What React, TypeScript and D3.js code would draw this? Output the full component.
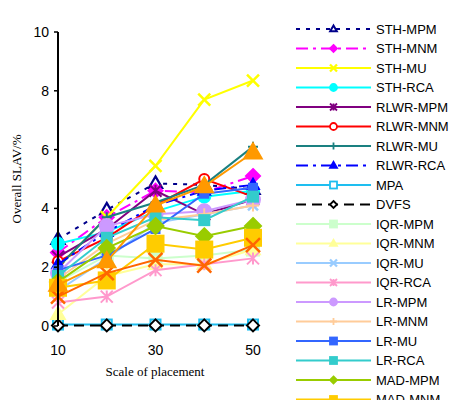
import React from "react";
import * as d3 from "d3";

const scales = [10, 20, 30, 40, 50];
const yTicks = [0, 2, 4, 6, 8, 10];
const xTickLabels = [10, 30, 50];

const names = [
  "STH-MPM", "STH-MNM", "STH-MU", "STH-RCA",
  "RLWR-MPM", "RLWR-MNM", "RLWR-MU", "RLWR-RCA",
  "MPA", "DVFS",
  "IQR-MPM", "IQR-MNM", "IQR-MU", "IQR-RCA",
  "LR-MPM", "LR-MNM", "LR-MU", "LR-RCA",
  "MAD-MPM", "MAD-MNM", "MAD-MU", "MAD-RCA",
];

const sthMPM = [2.95, 3.95, 4.85, 4.8, 4.65];
const sthMNM = [2.5, 3.7, 4.6, 4.55, 5.1];
const sthMU = [2.0, 3.7, 5.45, 7.7, 8.35];
const sthRCA = [2.8, 3.2, 3.9, 4.4, 4.6];
const rlwrMPM = [2.35, 3.3, 4.6, 3.8, 4.3];
const rlwrMNM = [2.2, 3.0, 4.1, 5.0, 4.4];
const rlwrMU = [2.0, 3.7, 4.2, 4.8, 6.1];
const rlwrRCA = [2.1, 3.2, 4.1, 4.6, 4.8];
const mpa = [0.05, 0.05, 0.05, 0.05, 0.05];
const dvfs = [0.02, 0.02, 0.02, 0.02, 0.02];
const iqrMPM = [1.5, 2.4, 2.3, 2.4, 2.6];
const iqrMNM = [0.4, 1.7, 2.1, 2.1, 2.6];
const iqrMU = [1.2, 2.3, 3.5, 3.8, 4.1];
const iqrRCA = [0.8, 1.0, 1.9, 2.1, 2.3];
const lrMPM = [1.8, 3.4, 3.8, 3.9, 4.3];
const lrMNM = [1.6, 2.8, 3.6, 3.8, 4.1];
const lrMU = [1.9, 2.4, 3.3, 4.5, 4.7];
const lrRCA = [1.7, 3.0, 3.7, 3.6, 4.4];
const madMPM = [1.5, 2.65, 3.4, 3.05, 3.4];
const madMNM = [1.3, 1.55, 2.8, 2.6, 3.0];
const madMU = [1.0, 1.8, 2.25, 2.05, 2.75];
const madRCA = [1.4, 2.2, 4.1, 4.75, 5.9];

const values = [
  sthMPM, sthMNM, sthMU, sthRCA,
  rlwrMPM, rlwrMNM, rlwrMU, rlwrRCA,
  mpa, dvfs,
  iqrMPM, iqrMNM, iqrMU, iqrRCA,
  lrMPM, lrMNM, lrMU, lrRCA,
  madMPM, madMNM, madMU, madRCA,
];

type Style = { color: string; dash?: string; marker: string; fill: string; size: number };
const styles: Style[] = [
  { color: "#00008B", dash: "4,6", marker: "triangle", fill: "white", size: 7 },
  { color: "#FF00FF", dash: "12,5,3,5", marker: "diamond", fill: "#FF00FF", size: 7 },
  { color: "#FFFF00", marker: "x", fill: "none", size: 6 },
  { color: "#00FFFF", marker: "circle", fill: "#00FFFF", size: 6 },
  { color: "#800080", marker: "asterisk", fill: "none", size: 6 },
  { color: "#FF0000", marker: "circle", fill: "white", size: 5 },
  { color: "#1A8080", marker: "plus", fill: "none", size: 5 },
  { color: "#0000FF", dash: "12,5,3,5", marker: "triangle", fill: "#0000FF", size: 6 },
  { color: "#1EBEF0", marker: "square", fill: "white", size: 5 },
  { color: "#000000", dash: "10,6", marker: "diamond", fill: "white", size: 6 },
  { color: "#CCFFCC", marker: "square", fill: "#CCFFCC", size: 6 },
  { color: "#FFFF99", marker: "triangle", fill: "#FFFF99", size: 7 },
  { color: "#99CCFF", marker: "x", fill: "none", size: 5 },
  { color: "#FF99CC", marker: "asterisk", fill: "none", size: 6 },
  { color: "#CC99FF", marker: "circle", fill: "#CC99FF", size: 7 },
  { color: "#FFCC99", marker: "plus", fill: "none", size: 6 },
  { color: "#3366FF", marker: "square", fill: "#3366FF", size: 4 },
  { color: "#33CCCC", marker: "square", fill: "#33CCCC", size: 5 },
  { color: "#99CC00", marker: "diamond", fill: "#99CC00", size: 8 },
  { color: "#FFCC00", marker: "square", fill: "#FFCC00", size: 8 },
  { color: "#FF6600", marker: "x", fill: "none", size: 7 },
  { color: "#FF9900", marker: "triangle", fill: "#FF9900", size: 9 },
];

function Marker({ x, y, s, sw = 2 }: { x: number; y: number; s: Style; sw?: number }) {
  const r = s.size;
  const c = s.color;
  switch (s.marker) {
    case "triangle":
      return <path d={`M${x},${y - r}L${x + r * 0.95},${y + r * 0.65}L${x - r * 0.95},${y + r * 0.65}Z`} fill={s.fill} stroke={c} strokeWidth={sw + 0.2} />;
    case "diamond":
      return <path d={`M${x},${y - r}L${x + r},${y}L${x},${y + r}L${x - r},${y}Z`} fill={s.fill} stroke={c} strokeWidth={sw} />;
    case "circle":
      return <circle cx={x} cy={y} r={r} fill={s.fill} stroke={c} strokeWidth={sw} />;
    case "square":
      return <rect x={x - r} y={y - r} width={2 * r} height={2 * r} fill={s.fill} stroke={c} strokeWidth={sw} />;
    case "x":
      return <path d={`M${x - r},${y - r}L${x + r},${y + r}M${x - r},${y + r}L${x + r},${y - r}`} stroke={c} strokeWidth={sw + 0.5} fill="none" />;
    case "plus":
      return <path d={`M${x - r},${y}L${x + r},${y}M${x},${y - r}L${x},${y + r}`} stroke={c} strokeWidth={sw} fill="none" />;
    case "asterisk":
      return <path d={`M${x - r},${y - r}L${x + r},${y + r}M${x - r},${y + r}L${x + r},${y - r}M${x},${y - r}L${x},${y + r}`} stroke={c} strokeWidth={sw} fill="none" />;
    default:
      return null;
  }
}

export default function App() {
  const width = 453;
  const height = 400;
  const x = d3.scaleLinear().domain([10, 50]).range([58, 253]);
  const y = d3.scaleLinear().domain([0, 10]).range([326, 32]);
  const line = d3
    .line<number>()
    .x((_, i) => x(scales[i]))
    .y((d) => y(d));

  const legendX0 = 296;
  const legendX1 = 371;
  const legendY0 = 29;
  const legendStep = 19.5;

  return (
    <svg width={width} height={height} style={{ position: "absolute", left: 0, top: 0 }}>
      <rect width={width} height={height} fill="white" />
      {/* series */}
      {values.map((vals, si) => (
        <g key={names[si]}>
          <path d={line(vals) || ""} fill="none" stroke={styles[si].color} strokeWidth={2} strokeDasharray={styles[si].dash} />
          {vals.map((v, i) => (
            <Marker key={i} x={x(scales[i])} y={y(v)} s={styles[si]} />
          ))}
        </g>
      ))}
      {/* y axis */}
      <line x1={58} x2={58} y1={y(10)} y2={y(0)} stroke="black" strokeWidth={2} />
      {yTicks.map((t) => (
        <g key={t}>
          <line x1={54} x2={58} y1={y(t)} y2={y(t)} stroke="black" strokeWidth={1.5} />
          <text x={49} y={y(t)} dy="0.35em" textAnchor="end" fontFamily="Liberation Sans, Arial, sans-serif" fontSize={14}>
            {t}
          </text>
        </g>
      ))}
      {xTickLabels.map((t) => (
        <text key={t} x={x(t)} y={355} textAnchor="middle" fontFamily="Liberation Sans, Arial, sans-serif" fontSize={14}>
          {t}
        </text>
      ))}
      <text x={155} y={376} textAnchor="middle" fontFamily="Liberation Serif, Times New Roman, serif" fontSize={13}>
        Scale of placement
      </text>
      <text
        transform={`translate(21,${179}) rotate(-90)`}
        textAnchor="middle"
        fontFamily="Liberation Serif, Times New Roman, serif"
        fontSize={13}
      >
        Overall SLAV/%
      </text>
      {/* legend */}
      {names.map((n, i) => {
        const ly = legendY0 + i * legendStep;
        const s = styles[i];
        return (
          <g key={n}>
            <line x1={legendX0} x2={legendX1} y1={ly} y2={ly} stroke={s.color} strokeWidth={2} strokeDasharray={s.dash} />
            <Marker x={(legendX0 + legendX1) / 2} y={ly} s={{ ...s, size: 3.5 }} sw={1.8} />
            <text x={376} y={ly} dy="0.35em" fontFamily="Liberation Sans, Arial, sans-serif" fontSize={13}>
              {n}
            </text>
          </g>
        );
      })}
    </svg>
  );
}
